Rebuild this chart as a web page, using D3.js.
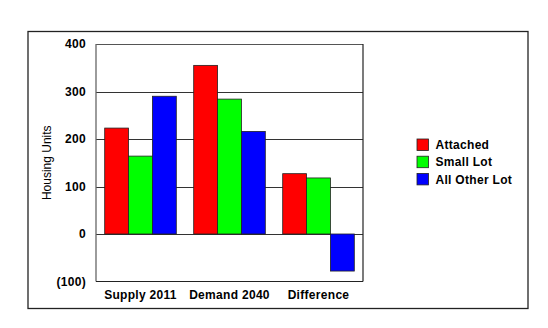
<!DOCTYPE html>
<html>
<head>
<meta charset="utf-8">
<script src="https://cdn.jsdelivr.net/npm/d3@7"></script>
<style>
html,body{margin:0;padding:0;background:#fff;}
svg{display:block;}
</style>
</head>
<body>
<svg id="chart" width="548" height="328"></svg>
<script>
const categories = ["Supply 2011", "Demand 2040", "Difference"];
const seriesNames = ["Attached", "Small Lot", "All Other Lot"];
const seriesColors = ["#ff0000", "#00ff00", "#0000ff"];
const attached = [223, 355, 127];
const smallLot = [164, 284, 118];
const allOtherLot = [290, 216, -78];
const yTicks = [-100, 0, 100, 200, 300, 400];
const yTickLabels = ["(100)", "0", "100", "200", "300", "400"];

const seriesValues = [attached, smallLot, allOtherLot];
const svg = d3.select("#chart");
const font = "Arial, 'Liberation Sans', sans-serif";

// outer border
svg.append("rect").attr("x", 28).attr("y", 31.5).attr("width", 500).attr("height", 277)
  .attr("fill", "none").attr("stroke", "#222").attr("stroke-width", 1.3);

const plot = {left: 96, top: 44, right: 363, bottom: 281.5};
const y = d3.scaleLinear().domain([-100, 400]).range([plot.bottom, plot.top]);
const x0 = d3.scaleBand().domain(categories).range([plot.left, plot.right]).padding(0);
const x1 = d3.scaleBand().domain(seriesNames).range([8.7, x0.bandwidth() - 8.7]).padding(0);

// gridlines
svg.append("g").selectAll("line").data(yTicks.filter(t => t > -100))
  .join("line")
  .attr("x1", plot.left).attr("x2", plot.right)
  .attr("y1", d => Math.round(y(d)) + 0.5).attr("y2", d => Math.round(y(d)) + 0.5)
  .attr("stroke", d => d === 400 ? "#555" : "#333").attr("stroke-width", 1.2);

// bars
const groups = svg.append("g").selectAll("g").data(categories).join("g")
  .attr("transform", d => `translate(${x0(d)},0)`);
groups.selectAll("rect")
  .data((c, i) => seriesNames.map((s, j) => ({s, v: seriesValues[j][i], j})))
  .join("rect")
  .attr("x", d => x1(d.s))
  .attr("width", x1.bandwidth())
  .attr("y", d => y(Math.max(0, d.v)))
  .attr("height", d => Math.abs(y(d.v) - y(0)))
  .attr("fill", d => seriesColors[d.j])
  .attr("stroke", "#222").attr("stroke-width", 0.8);

// frame: left/top gray, right/bottom dark
svg.append("line").attr("x1", plot.left).attr("x2", plot.left).attr("y1", plot.top).attr("y2", plot.bottom)
  .attr("stroke", "#666").attr("stroke-width", 1.3);
svg.append("line").attr("x1", plot.right).attr("x2", plot.right).attr("y1", plot.top).attr("y2", plot.bottom)
  .attr("stroke", "#222").attr("stroke-width", 1.2);
svg.append("line").attr("x1", plot.left).attr("x2", plot.right).attr("y1", plot.bottom).attr("y2", plot.bottom)
  .attr("stroke", "#222").attr("stroke-width", 1.2);

// y axis labels
const yAxis = d3.axisLeft(y).tickValues(yTicks).tickSize(0).tickPadding(10)
  .tickFormat((d, i) => yTickLabels[i]);
const yg = svg.append("g").attr("transform", `translate(${plot.left},0)`).call(yAxis);
yg.select(".domain").remove();
yg.selectAll("text").attr("font-family", font).attr("font-size", 12).attr("font-weight", "bold")
  .attr("letter-spacing", "0.3px").attr("fill", "#000");

// x axis labels
const xAxis = d3.axisBottom(x0).tickSize(0).tickPadding(9);
const xg = svg.append("g").attr("transform", `translate(0,${plot.bottom})`).call(xAxis);
xg.select(".domain").remove();
xg.selectAll("text").attr("font-family", font).attr("font-size", 12).attr("font-weight", "bold")
  .attr("letter-spacing", "0.3px").attr("fill", "#000");

// y title
svg.append("text").attr("transform", `translate(51,${(plot.top + plot.bottom) / 2}) rotate(-90)`)
  .attr("text-anchor", "middle").attr("font-family", font).attr("font-size", 12).attr("fill", "#000")
  .text("Housing Units");

// legend
const legend = svg.append("g").attr("transform", "translate(417,139)");
const li = legend.selectAll("g").data(seriesNames).join("g")
  .attr("transform", (d, i) => `translate(0,${i * 17.2})`);
li.append("rect").attr("width", 11.5).attr("height", 11.5)
  .attr("fill", (d, i) => seriesColors[i]).attr("stroke", "#222").attr("stroke-width", 0.8);
li.append("text").attr("x", 18.5).attr("y", 6).attr("dy", "0.35em")
  .attr("font-family", font).attr("font-size", 12).attr("font-weight", "bold")
  .attr("letter-spacing", "0.3px").attr("fill", "#000")
  .text(d => d);
</script>
</body>
</html>
